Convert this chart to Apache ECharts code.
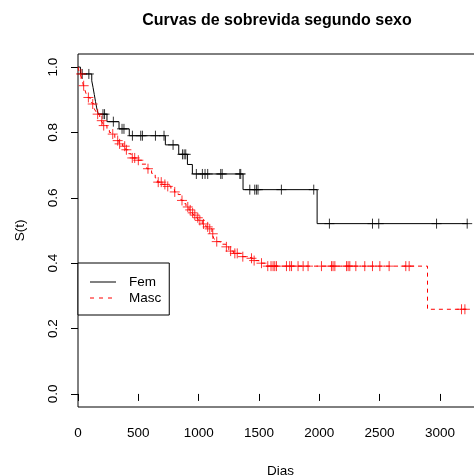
<!DOCTYPE html>
<html><head><meta charset="utf-8">
<script src="https://cdn.jsdelivr.net/npm/echarts@6/dist/echarts.min.js"></script>
<style>html,body{margin:0;padding:0;background:#fff}#c{width:474px;height:475px}</style>
</head><body><div id="c"></div>
<script>
const xTicks = [0, 500, 1000, 1500, 2000, 2500, 3000];
const yTicks = [0, 0.2, 0.4, 0.6, 0.8, 1.0];

// Kaplan-Meier steps: [time, survival after the event]
const femSteps = [[0,1],[20,0.979],[114,0.958],[125,0.937],[135,0.916],[145,0.895],[155,0.875],[168,0.856],
  [240,0.833],[340,0.811],[425,0.790],[724,0.762],[835,0.733],[907,0.702],[948,0.673],[1368,0.625],[1982,0.521],[3232,0.521]];
const femCensor = [35,90,207,220,293,365,381,451,520,534,642,713,788,866,880,893,981,1031,1053,1075,1183,1195,1341,1349,
  1424,1465,1479,1492,1686,1954,2084,2441,2493,2972,3226];

const mascSteps = [[0,1],[8,0.986],[18,0.979],[32,0.965],[40,0.951],[45,0.943],[58,0.929],[70,0.915],[80,0.907],[100,0.893],
  [115,0.887],[135,0.872],[150,0.863],[158,0.856],[180,0.846],[192,0.836],[205,0.828],[210,0.821],[240,0.810],[260,0.800],
  [280,0.795],[305,0.785],[320,0.775],[340,0.765],[370,0.758],[395,0.747],[420,0.735],[440,0.722],[490,0.715],[530,0.703],
  [570,0.689],[610,0.675],[640,0.661],[660,0.648],[700,0.641],[740,0.635],[770,0.625],[800,0.618],[830,0.610],[850,0.600],
  [857,0.592],[875,0.582],[895,0.572],[920,0.563],[945,0.554],[960,0.547],[985,0.539],[1000,0.531],[1030,0.520],[1060,0.511],
  [1090,0.505],[1110,0.490],[1125,0.477],[1140,0.466],[1180,0.458],[1225,0.450],[1250,0.437],[1290,0.430],[1350,0.420],
  [1400,0.415],[1450,0.408],[1500,0.400],[1560,0.391],[2897,0.259],[3215,0.259]];
const mascCensor = [25,47,86,122,163,197,213,288,329,345,387,401,450,470,500,580,665,690,720,744,802,862,910,930,950,968,993,
  1010,1040,1075,1092,1117,1150,1230,1265,1300,1320,1366,1438,1460,1521,1573,1600,1617,1631,1645,1728,1755,1770,1824,1866,
  1907,2018,2101,2114,2129,2226,2239,2253,2303,2377,2441,2502,2579,2717,2745,3179,3207];

function survAt(steps, t) {
  let s = steps[0][1];
  for (const [ti, si] of steps) { if (ti <= t) s = si; else break; }
  return s;
}
const femCensorPts = femCensor.map(t => [t, survAt(femSteps, t)]);
const mascCensorPts = mascCensor.map(t => [t, survAt(mascSteps, t)]);

const FONT = 'Liberation Sans';
const FS = 13.5;
const plus = 'path://M5,0L5,10M0,5L10,5';
const solidIcon = 'path://M0,0L0,0M0,5.5L26,5.5L26,6.5L0,6.5ZM26,12L26,12';
const dashIcon = 'path://M0,0L0,0M0,5.5h4v1h-4zM9,5.5h4v1h-4zM18,5.5h4v1h-4zM26,12L26,12';

const chart = echarts.init(document.getElementById('c'), null, {renderer: 'canvas'});
chart.setOption({
  animation: false,
  backgroundColor: '#fff',
  title: {
    text: 'Curvas de sobrevida segundo sexo',
    left: 272, top: 8, textAlign: 'center',
    textStyle: {fontFamily: FONT, fontSize: 16, fontWeight: 'bold', color: '#000'}
  },
  grid: {left: 78, width: 405, top: 54, bottom: 68, outerBoundsMode: 'none', containLabel: false,
    show: true, borderColor: '#000', borderWidth: 1, backgroundColor: 'transparent'},
  legend: {
    data: [{name: 'Fem', icon: solidIcon, itemStyle: {color: '#000'}},
           {name: 'Masc', icon: dashIcon, itemStyle: {color: '#ff0000'}}],
    orient: 'vertical', left: 78, top: 263,
    itemWidth: 26, itemHeight: 12, itemGap: 2,
    padding: [12, 8, 10, 12],
    borderColor: '#000', borderWidth: 1, backgroundColor: '#fff', borderRadius: 0,
    textStyle: {fontFamily: FONT, fontSize: FS, color: '#000', padding: [0, 0, 0, 8]},
    selectedMode: false
  },
  xAxis: {
    type: 'value', min: 0, max: 3357,
    name: 'Dias', nameLocation: 'middle', nameGap: 57,
    nameTextStyle: {fontFamily: FONT, fontSize: FS, color: '#000'},
    axisLine: {show: false},
    axisTick: {show: true, inside: false, length: 7, lineStyle: {color: '#000'}, customValues: xTicks},
    axisLabel: {show: true, margin: 19, fontFamily: FONT, fontSize: FS, color: '#000', customValues: xTicks,
      formatter: v => String(v)},
    splitLine: {show: false}
  },
  yAxis: {
    type: 'value', min: -0.04, max: 1.04,
    name: 'S(t)', nameLocation: 'middle', nameGap: 51, nameRotate: 90,
    nameTextStyle: {fontFamily: FONT, fontSize: FS, color: '#000'},
    axisLine: {show: false},
    axisTick: {show: true, inside: false, length: 7, lineStyle: {color: '#000'}, customValues: yTicks},
    axisLabel: {show: true, margin: 17.5, rotate: 90, fontFamily: FONT, fontSize: FS, color: '#000',
      customValues: yTicks, formatter: v => v.toFixed(1)},
    splitLine: {show: false}
  },
  series: [
    {name: 'Fem', type: 'line', step: 'end', data: femSteps, symbol: 'none',
      lineStyle: {color: '#000', width: 1, type: 'solid'}, itemStyle: {color: '#000'}, z: 2},
    {name: 'FemC', type: 'scatter', data: femCensorPts, symbol: plus, symbolSize: 10,
      itemStyle: {color: 'rgba(0,0,0,0)', borderColor: '#000', borderWidth: 1}, z: 3},
    {name: 'Masc', type: 'line', step: 'end', data: mascSteps, symbol: 'none',
      lineStyle: {color: '#ff0000', width: 1, type: [4, 4]}, itemStyle: {color: '#ff0000'}, z: 4},
    {name: 'MascC', type: 'scatter', data: mascCensorPts, symbol: plus, symbolSize: 10,
      itemStyle: {color: 'rgba(0,0,0,0)', borderColor: '#ff0000', borderWidth: 1}, z: 5}
  ]
});
</script>
</body></html>
